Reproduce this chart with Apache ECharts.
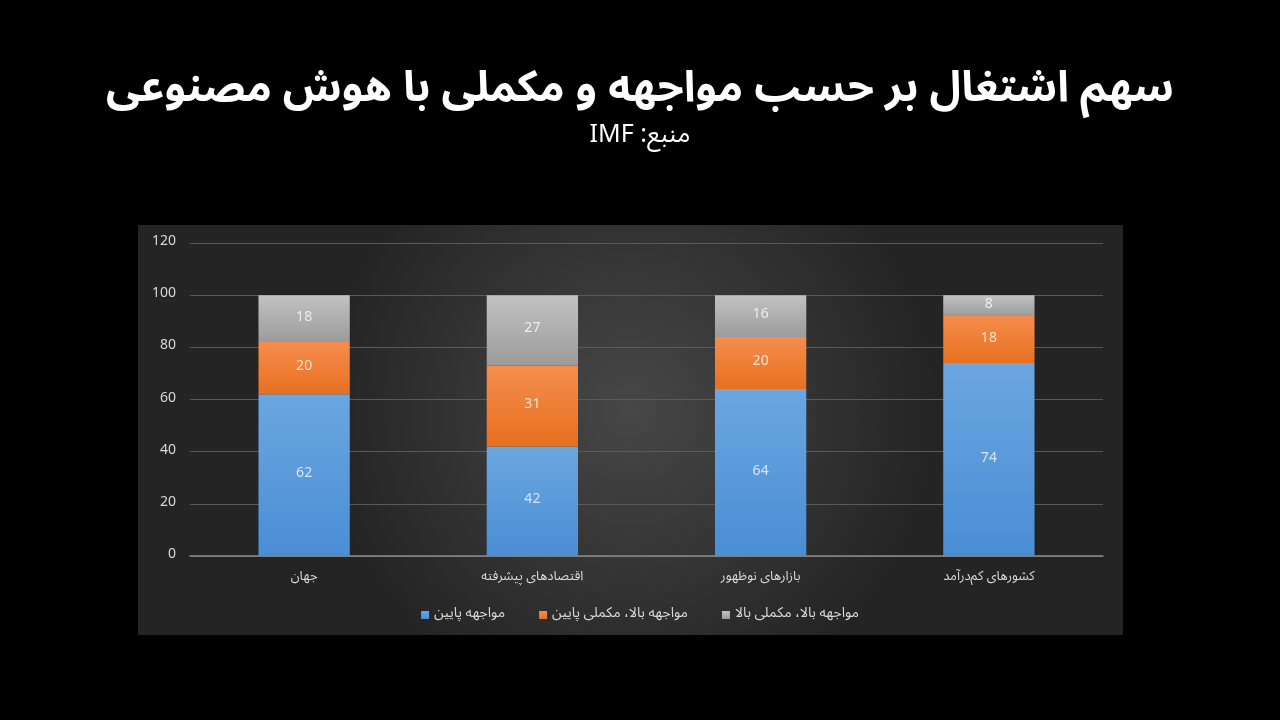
<!DOCTYPE html>
<html><head><meta charset="utf-8">
<script src="https://cdn.jsdelivr.net/npm/echarts@6/dist/echarts.min.js"></script>
<style>html,body{margin:0;padding:0;background:#000;}#c{width:1280px;height:720px;}</style>
</head><body><div id="c"></div>
<script>
const categories = ['جهان', 'اقتصادهای پیشرفته', 'بازارهای نوظهور', 'کشورهای کم‌درآمد'];
const lowExposure = [62, 42, 64, 74];
const highExpLowComp = [20, 31, 20, 18];
const highExpHighComp = [18, 27, 16, 8];
const seriesNames = ['مواجهه پایین', 'مواجهه بالا، مکملی پایین', 'مواجهه بالا، مکملی بالا'];
const yTicks = {min: 0, max: 120, interval: 20};

const FONT = '"Noto Sans Arabic", "DejaVu Sans", "Noto Sans", sans-serif';
const chart = echarts.init(document.getElementById('c'));
function grad(top, bottom){
  return new echarts.graphic.LinearGradient(0,0,0,1,[{offset:0,color:top},{offset:1,color:bottom}]);
}
function mk(name, data, top, bottom, labelColor){
  return {
    name, type:'bar', stack:'a', data, barWidth:'40%',
    itemStyle:{color:grad(top,bottom)},
    label:{show:true, position:'inside', color:labelColor, fontSize:14, fontFamily:FONT},
    emphasis:{disabled:true}
  };
}
chart.setOption({
  backgroundColor:'#000',
  animation:false,
  graphic:[{
    type:'rect', left:138, top:225, z:-10,
    shape:{width:985, height:410},
    style:{fill:new echarts.graphic.RadialGradient(0.5,0.45,0.75,[{offset:0,color:'#474747'},{offset:1,color:'#242424'}])}
  }],
  title:{
    text:'سهم اشتغال بر حسب مواجهه و مکملی با هوش مصنوعی',
    subtext:'IMF :منبع',
    left:'center', top:68,
    textStyle:{color:'#fff', fontSize:43, fontWeight:'bold', fontFamily:FONT},
    subtextStyle:{color:'#fff', fontSize:25, fontFamily:FONT},
    itemGap:10
  },
  legend:{
    bottom:93, left:'center',
    icon:'rect', itemWidth:8, itemHeight:8, itemGap:34,
    textStyle:{color:'#d9d9d9', fontSize:14, fontFamily:FONT},
    data:seriesNames
  },
  grid:{left:190, right:177, top:243, bottom:164},
  xAxis:{
    type:'category', data:categories,
    axisLine:{lineStyle:{color:'#8a8a8a', width:1.5}},
    axisTick:{show:false},
    axisLabel:{color:'#d9d9d9', fontSize:13, fontFamily:FONT, margin:16}
  },
  yAxis:{
    type:'value', min:yTicks.min, max:yTicks.max, interval:yTicks.interval,
    axisLine:{show:false}, axisTick:{show:false},
    axisLabel:{color:'#d9d9d9', fontSize:14, fontFamily:FONT, margin:14},
    splitLine:{lineStyle:{color:'#5a5a5a'}}
  },
  series:[
    mk(seriesNames[0], lowExposure, '#6ba6e0', '#4a8ed6', '#d5e5f6'),
    mk(seriesNames[1], highExpLowComp, '#f58d4e', '#e8701f', '#fde3cf'),
    mk(seriesNames[2], highExpHighComp, '#c2c2c2', '#9b9b9b', '#eeeeee')
  ]
});
</script></body></html>
